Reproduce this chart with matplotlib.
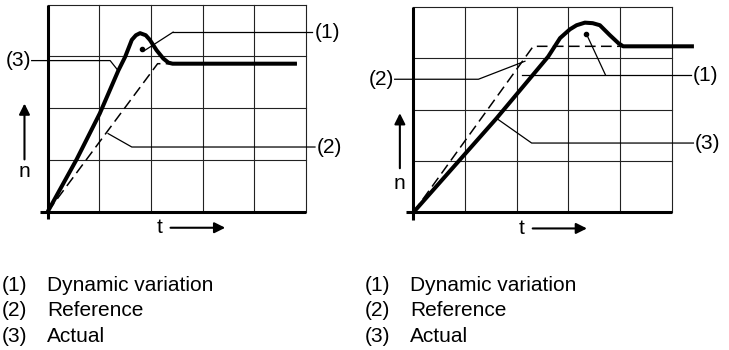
import matplotlib
matplotlib.use('Agg')
import matplotlib.pyplot as plt

plt.rcParams['font.family'] = ['Liberation Sans', 'DejaVu Sans']
FS = 15

# speed response curves, x/y in grid units (5 x 4 grid)
left_actual_x = [0, 0.56, 1.01, 1.37, 1.50, 1.63, 1.71, 1.79, 1.90, 1.98, 2.11, 2.24, 2.34, 2.42, 4.83]
left_actual_y = [0, 1.01, 1.90, 2.73, 2.99, 3.32, 3.41, 3.45, 3.41, 3.32, 3.12, 2.96, 2.88, 2.86, 2.86]
left_ref_x = [0, 2.13, 4.83]
left_ref_y = [0, 2.86, 2.86]

right_actual_x = [0, 1.61, 2.61, 2.84, 3.03, 3.16, 3.32, 3.47, 3.61, 3.80, 3.97, 4.06, 5.43]
right_actual_y = [0, 1.83, 3.03, 3.39, 3.56, 3.64, 3.69, 3.68, 3.64, 3.45, 3.29, 3.23, 3.23]
right_ref_x = [0, 2.32, 5.43]
right_ref_y = [0, 3.23, 3.23]

legend_nums = ['(1)', '(2)', '(3)']
legend_names = ['Dynamic variation', 'Reference', 'Actual']

W, H = 729, 350
fig = plt.figure(figsize=(W / 100, H / 100), dpi=100)


def px_axes(x0, y0, x1, y1):
    # axes from pixel box (top-left origin)
    return fig.add_axes([x0 / W, 1 - y1 / H, (x1 - x0) / W, (y1 - y0) / H])


def draw_panel(ax, ax_x, ax_y, rf_x, rf_y, leaders, labels, n_arrow, t_arrow):
    ax.set_xlim(0, 5)
    ax.set_ylim(0, 4)
    ax.axis('off')
    for gx in range(1, 6):
        ax.plot([gx, gx], [0, 4], color='#222222', lw=0.8, clip_on=False)
    for gy in range(1, 5):
        ax.plot([0, 5], [gy, gy], color='#222222', lw=0.8, clip_on=False)
    ax.plot([-0.15, 5], [0, 0], color='k', lw=2.2, clip_on=False, solid_capstyle='butt')
    ax.plot([0, 0], [-0.15, 4], color='k', lw=2.2, clip_on=False, solid_capstyle='butt')

    # leader lines
    for lx, ly in leaders:
        ax.plot(lx, ly, color='k', lw=0.9, clip_on=False)

    ref, = ax.plot(rf_x, rf_y, color='k', lw=1.1, clip_on=False)
    ref.set_dashes((7, 3.5))
    ax.plot(ax_x, ax_y, color='k', lw=2.9, clip_on=False,
            solid_joinstyle='round', solid_capstyle='butt')

    for tx, ty, s, ha in labels:
        ax.text(tx, ty, s, fontsize=FS, ha=ha, va='center', clip_on=False)

    nx, ny0, ny1, nty = n_arrow
    ax.annotate('', xy=(nx, ny1), xytext=(nx, ny0), annotation_clip=False,
                arrowprops=dict(arrowstyle='-|>', color='k', lw=1.5,
                                mutation_scale=16, shrinkA=0, shrinkB=0))
    ax.text(nx, nty, 'n', fontsize=FS, ha='center', va='center')
    tx, tx0, tx1, tty = t_arrow
    ax.text(tx, tty, 't', fontsize=FS, ha='center', va='center')
    ax.annotate('', xy=(tx1, tty), xytext=(tx0, tty), annotation_clip=False,
                arrowprops=dict(arrowstyle='-|>', color='k', lw=1.5,
                                mutation_scale=16, shrinkA=0, shrinkB=0))


ax1 = px_axes(47.7, 4.7, 305.7, 211.7)
draw_panel(
    ax1, left_actual_x, left_actual_y, left_ref_x, left_ref_y,
    leaders=[
        ([2.43, 5.12], [3.47, 3.47]),
        ([1.87, 2.43], [3.11, 3.47]),
        ([1.17, 1.63, 5.18], [1.51, 1.25, 1.25]),
        ([-0.31, 1.21, 1.37], [2.92, 2.92, 2.72]),
    ],
    labels=[(5.17, 3.47, '(1)', 'left'), (5.21, 1.25, '(2)', 'left'),
            (-0.32, 2.92, '(3)', 'right')],
    n_arrow=(-0.45, 1.01, 2.09, 0.78),
    t_arrow=(2.16, 2.38, 3.44, -0.31),
)
ax1.plot([1.83], [3.14], 'o', color='k', ms=3)

ax2 = px_axes(413.3, 6.7, 671.7, 212.5)
draw_panel(
    ax2, right_actual_x, right_actual_y, right_ref_x, right_ref_y,
    leaders=[
        ([2.11, 5.38], [2.67, 2.67]),
        ([3.35, 3.72], [3.47, 2.67]),
        ([-0.36, 1.26, 2.16], [2.59, 2.59, 2.94]),
        ([1.61, 2.29, 5.42], [1.83, 1.35, 1.35]),
    ],
    labels=[(5.41, 2.67, '(1)', 'left'), (-0.38, 2.59, '(2)', 'right'),
            (5.45, 1.35, '(3)', 'left')],
    n_arrow=(-0.26, 0.86, 1.93, 0.57),
    t_arrow=(2.09, 2.31, 3.36, -0.31),
)
ax2.plot([3.35], [3.47], 'o', color='k', ms=3)

# legends under each panel
rows_y = [285.5, 310, 336.5]
for col_x, name_x in [(2, 47), (365, 410)]:
    for num, name, ry in zip(legend_nums, legend_names, rows_y):
        fig.text(col_x / W, 1 - ry / H, num, fontsize=FS, va='center', ha='left')
        fig.text(name_x / W, 1 - ry / H, name, fontsize=FS, va='center', ha='left')

fig.savefig('out.png', dpi=100)
